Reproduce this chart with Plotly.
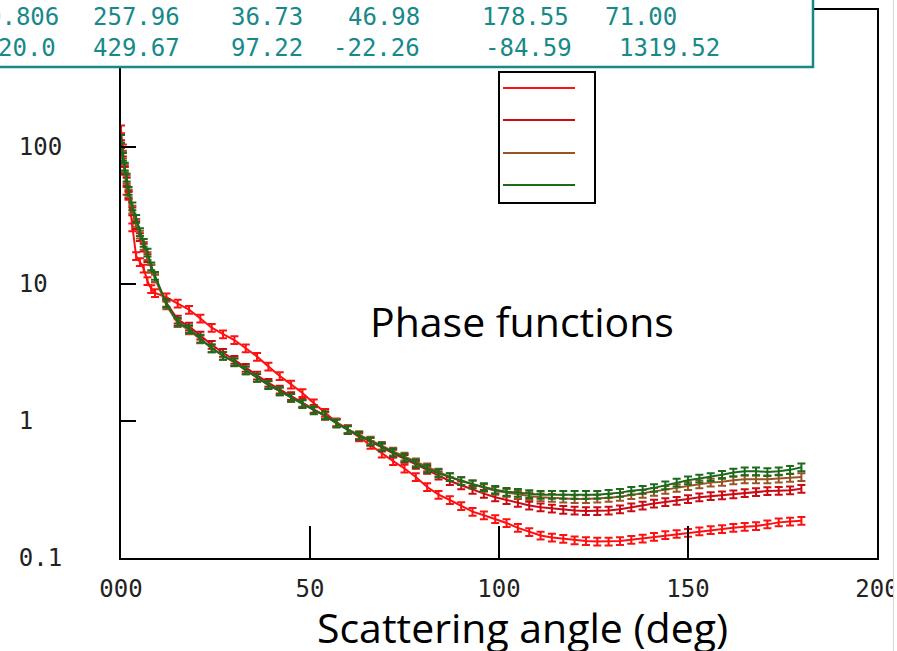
import plotly.graph_objects as go

# ---------------- data ----------------
angle = [0, 0.5, 1, 1.5, 2, 3, 4, 5, 6, 7, 8, 9,
         12, 15, 18, 21, 24, 27, 30, 33, 36, 39, 42, 45, 48, 51, 54, 57, 60,
         63, 66, 69, 72, 75, 78, 81, 84, 87, 90, 93, 96, 99, 102, 105, 108,
         111, 114, 117, 120, 123, 126, 129, 132, 135, 138, 141, 144, 147, 150,
         153, 156, 159, 162, 165, 168, 171, 174, 177, 180]

phase_red = [135, 98, 67, 48, 44, 26, 16, 14.5, 13, 10.5, 9.2, 8.6,
             8.0, 7.2, 6.5, 5.6, 4.8, 4.3, 3.9, 3.4, 2.95, 2.5, 2.13, 1.85, 1.6, 1.35, 1.15, 0.98, 0.87,
             0.76, 0.67, 0.58, 0.51, 0.45, 0.39, 0.33, 0.29, 0.265, 0.24, 0.218, 0.205, 0.193, 0.18, 0.166, 0.155,
             0.146, 0.141, 0.138, 0.135, 0.133, 0.132, 0.132, 0.133, 0.136, 0.139, 0.143, 0.147, 0.15, 0.153,
             0.157, 0.16, 0.163, 0.166, 0.169, 0.171, 0.176, 0.182, 0.185, 0.187]

phase_darkred = [105, 80, 68, 56, 45, 34, 27, 22, 18.5, 15.5, 13, 11,
                 7.3, 5.5, 4.9, 4.2, 3.6, 3.15, 2.8, 2.45, 2.15, 1.9, 1.7, 1.52, 1.36, 1.23, 1.1, 0.97, 0.87,
                 0.78, 0.71, 0.64, 0.58, 0.53, 0.48, 0.44, 0.40, 0.365, 0.34, 0.315, 0.295, 0.278, 0.265, 0.253, 0.242,
                 0.235, 0.23, 0.225, 0.222, 0.22, 0.22, 0.222, 0.227, 0.235, 0.242, 0.25, 0.256, 0.262, 0.27,
                 0.278, 0.283, 0.287, 0.292, 0.298, 0.303, 0.308, 0.31, 0.312, 0.32]

phase_brown = [100, 88, 70, 58, 46, 35, 28, 23, 19, 16, 13, 11,
               7.0, 5.2, 4.6, 3.95, 3.4, 3.0, 2.68, 2.35, 2.07, 1.84, 1.65, 1.48, 1.34, 1.21, 1.09, 0.97, 0.87,
               0.79, 0.72, 0.66, 0.6, 0.55, 0.5, 0.46, 0.42, 0.39, 0.365, 0.345, 0.325, 0.31, 0.30, 0.29, 0.283,
               0.278, 0.275, 0.272, 0.27, 0.27, 0.272, 0.275, 0.28, 0.288, 0.295, 0.305, 0.315, 0.325, 0.335,
               0.345, 0.355, 0.36, 0.37, 0.375, 0.375, 0.375, 0.38, 0.385, 0.39]

phase_green = [115, 85, 72, 60, 48, 37, 30, 24, 20, 17, 13.5, 11.5,
               7.2, 5.3, 4.7, 4.0, 3.4, 3.0, 2.7, 2.35, 2.07, 1.83, 1.65, 1.48, 1.33, 1.2, 1.1, 0.96, 0.86,
               0.78, 0.71, 0.65, 0.59, 0.54, 0.49, 0.45, 0.415, 0.39, 0.365, 0.345, 0.33, 0.315, 0.305, 0.30, 0.293,
               0.29, 0.29, 0.29, 0.29, 0.29, 0.29, 0.295, 0.30, 0.31, 0.315, 0.325, 0.34, 0.355, 0.37,
               0.38, 0.39, 0.405, 0.42, 0.43, 0.43, 0.425, 0.43, 0.44, 0.46]

x_tick_vals = [0, 50, 100, 150, 200]
x_tick_text = ["000", "50", "100", "150", "200"]
y_tick_vals = [0.1, 1, 10, 100]
y_tick_text = ["0.1", "1\u00a0\u00a0", "10\u00a0", "100"]

table_row1 = ["0.806", "257.96", "36.73", "46.98", "178.55", "71.00"]
table_row2 = ["20.0", "429.67", "97.22", "-22.26", "-84.59", "1319.52"]

chart_title = "Phase functions"
x_title = "Scattering angle (deg)"

# ---------------- style ----------------
series = [
    (phase_red, "#ff1010"),
    (phase_darkred, "#cc0a14"),
    (phase_brown, "#9a5424"),
    (phase_green, "#1c6a1c"),
]
TEAL = "#17898a"
W, H = 897, 651
L, R, T, B = 121, 20, 10, 93
PW, PH = W - L - R, H - T - B


def px(xp):
    return (xp - L) / PW


def py(yp):
    return (H - B - yp) / PH


fig = go.Figure()
for vals, col in series:
    fig.add_trace(go.Scatter(
        x=angle, y=vals, mode="lines",
        line=dict(color=col, width=2),
        error_y=dict(type="percent", value=6.5, width=4, thickness=2, color=col),
        showlegend=False,
    ))

shapes = []
# teal parameter box (covers top-left part of frame)
shapes.append(dict(type="rect", xref="paper", yref="paper",
                   x0=px(-10), x1=px(813), y0=py(67), y1=py(-10),
                   line=dict(color=TEAL, width=2.5), fillcolor="white", layer="above"))
# legend box
shapes.append(dict(type="rect", xref="paper", yref="paper",
                   x0=px(499), x1=px(595), y0=py(203), y1=py(72),
                   line=dict(color="black", width=2), fillcolor="white", layer="above"))
for i, (vals, col) in enumerate(series):
    yy = [88, 120, 153, 185][i]
    shapes.append(dict(type="line", xref="paper", yref="paper",
                       x0=px(503), x1=px(575), y0=py(yy), y1=py(yy),
                       line=dict(color=col, width=2), layer="above"))
# screenshot right edge
shapes.append(dict(type="rect", xref="paper", yref="paper",
                   x0=px(893), x1=px(900), y0=py(660), y1=py(-10),
                   line=dict(width=0), fillcolor="white", layer="above"))
shapes.append(dict(type="line", xref="paper", yref="paper",
                   x0=px(893.5), x1=px(893.5), y0=py(651), y1=py(0),
                   line=dict(color="#d8d8d8", width=1), layer="above"))

annotations = []
mono = "DejaVu Sans Mono"
row1_pos = [(61, "right"), (91, "left"), (229, "left"), (346, "left"), (480, "left"), (603, "left")]
row2_pos = [(58, "right"), (91, "left"), (229, "left"), (331, "left"), (483, "left"), (617, "left")]
for txt, (xp, anc) in zip(table_row1, row1_pos):
    annotations.append(dict(text=txt, xref="paper", yref="paper", x=px(xp), y=py(17),
                            xanchor=anc, yanchor="middle", showarrow=False,
                            font=dict(family=mono, size=24, color=TEAL)))
for txt, (xp, anc) in zip(table_row2, row2_pos):
    annotations.append(dict(text=txt, xref="paper", yref="paper", x=px(xp), y=py(48),
                            xanchor=anc, yanchor="middle", showarrow=False,
                            font=dict(family=mono, size=24, color=TEAL)))
annotations.append(dict(text=chart_title, xref="paper", yref="paper", x=px(522), y=py(321),
                        xanchor="center", yanchor="middle", showarrow=False,
                        font=dict(family="Open Sans", size=41, color="black")))
annotations.append(dict(text=x_title, xref="paper", yref="paper", x=px(522), y=py(627),
                        xanchor="center", yanchor="middle", showarrow=False,
                        font=dict(family="Open Sans", size=41, color="black")))

fig.update_layout(
    width=W, height=H, autosize=False,
    margin=dict(l=L, r=R, t=T, b=B, autoexpand=False),
    paper_bgcolor="white", plot_bgcolor="white",
    shapes=shapes, annotations=annotations,
    xaxis=dict(range=[0, 200], tickvals=x_tick_vals, ticktext=x_tick_text,
               ticks="inside", ticklen=32, tickwidth=2, tickcolor="black",
               showline=True, linecolor="black", linewidth=2, mirror=True,
               showgrid=False, zeroline=False, ticklabelstandoff=8,
               ticklabeloverflow="allow", automargin=False,
               tickfont=dict(family=mono, size=24, color="#222")),
    yaxis=dict(type="log", range=[-1, 3], tickvals=y_tick_vals, ticktext=y_tick_text,
               ticks="inside", ticklen=15, tickwidth=2, tickcolor="black",
               showline=True, linecolor="black", linewidth=2, mirror=True,
               showgrid=False, zeroline=False, ticklabelstandoff=52,
               automargin=False,
               tickfont=dict(family=mono, size=24, color="#222")),
)

fig.write_html("out.html", config={"displayModeBar": False},
               post_script="document.body.style.margin='0px';")
